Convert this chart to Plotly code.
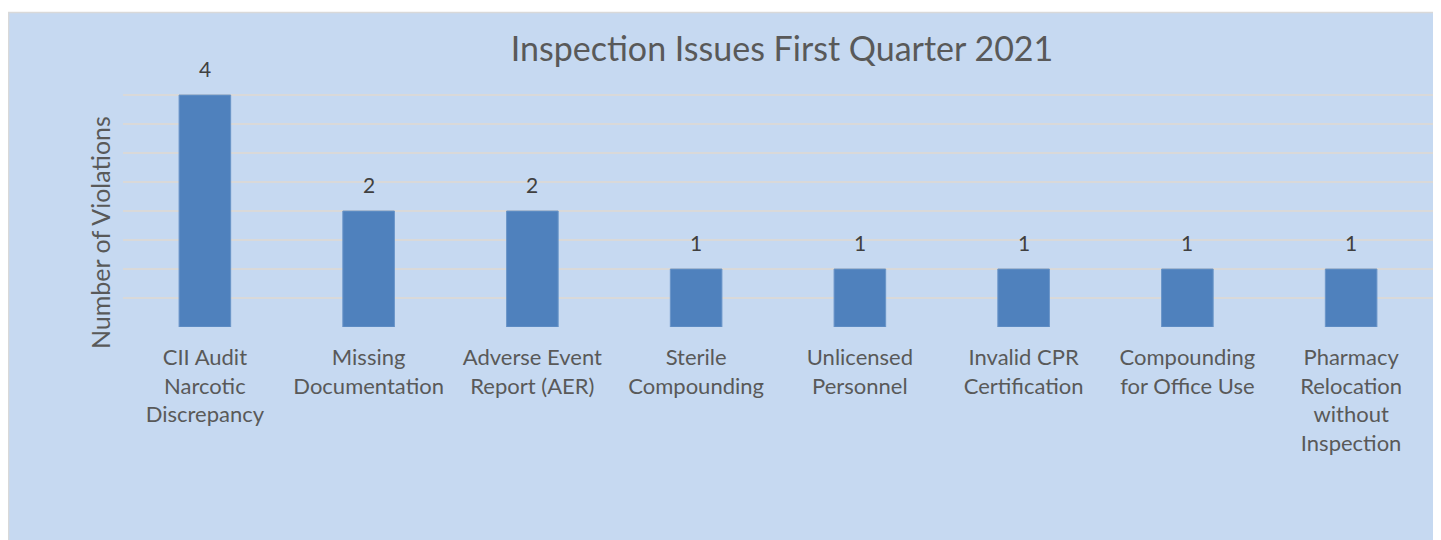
import plotly.graph_objects as go

categories = [
    "CII Audit<br>Narcotic<br>Discrepancy",
    "Missing<br>Documentation",
    "Adverse Event<br>Report (AER)",
    "Sterile<br>Compounding",
    "Unlicensed<br>Personnel",
    "Invalid CPR<br>Certification",
    "Compounding<br>for Office Use",
    "Pharmacy<br>Relocation<br>without<br>Inspection",
]
violations = [4, 2, 2, 1, 1, 1, 1, 1]
title_text = "Inspection Issues First Quarter 2021"
y_title = "Number of Violations"

OFF = 8  # page body margin
W, H = 1441 - OFF, 540 - OFF
# plot area in reference page pixels: x 123..1433, y 66..327
L, R, T = 123 - OFF, 1441 - 1433, 66 - OFF
B = H - (327 - OFF)
pw, ph = W - L - R, H - T - B

def px_x(p):  # reference page pixel -> paper x
    return (p - OFF - L) / pw

def px_y(p):  # reference page pixel -> paper y
    return (H - B - (p - OFF)) / ph

BG = "#C6D9F1"
TXT = "#595959"
FONT = "Lato, Carlito, Calibri, sans-serif"

fig = go.Figure()
fig.add_trace(go.Bar(
    x=list(range(len(categories))),
    y=violations,
    marker=dict(color="#4F81BD", line=dict(color="#6A95C8", width=1)),
    width=0.315,
    hoverinfo="skip",
))

for i, v in enumerate(violations):
    fig.add_annotation(x=i, y=v, text=str(v), showarrow=False,
                       yanchor="bottom", yshift=12,
                       font=dict(family=FONT, size=21, color="#404040"))

fig.add_annotation(x=px_x(100), y=px_y(233), xref="paper", yref="paper",
                   xanchor="center", yanchor="middle",
                   text=y_title, textangle=-90, showarrow=False,
                   font=dict(family=FONT, size=25, color=TXT))

# white strip above the chart panel and its grey border
fig.add_shape(type="rect", xref="paper", yref="paper",
              x0=px_x(0), x1=px_x(1500), y0=px_y(12), y1=px_y(0),
              fillcolor="white", line=dict(width=0), layer="below")
fig.add_shape(type="rect", xref="paper", yref="paper",
              x0=px_x(8.5), x1=px_x(1460), y0=px_y(580), y1=px_y(12.5),
              fillcolor=BG, line=dict(color="#D9D9D9", width=1.5), layer="below")

fig.update_layout(
    width=W, height=H,
    margin=dict(l=L, r=R, t=T, b=B),
    paper_bgcolor=BG,
    plot_bgcolor="rgba(0,0,0,0)",
    showlegend=False,
    title=dict(text=title_text, x=(782 - OFF) / W, xanchor="center",
               y=1 - (49 - OFF) / H, yanchor="middle",
               font=dict(family=FONT, size=34, color=TXT)),
    xaxis=dict(tickmode="array", tickvals=list(range(len(categories))),
               ticktext=categories, range=[-0.5, len(categories) - 0.5],
               showgrid=False, zeroline=False, showline=False, ticks="",
               ticklabelstandoff=15,
               tickfont=dict(family=FONT, size=22, color=TXT)),
    yaxis=dict(range=[0, 4.5], dtick=0.5, showticklabels=False,
               showgrid=True, gridcolor="#D9D9D9", gridwidth=1.5,
               zeroline=False, showline=False, ticks=""),
)

fig.write_html("out.html")
